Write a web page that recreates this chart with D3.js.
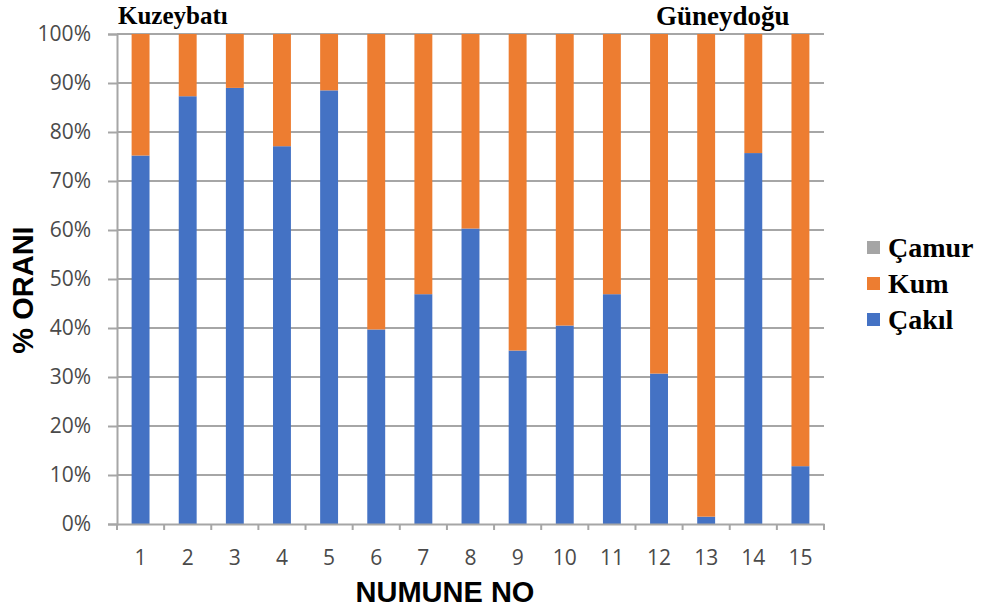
<!DOCTYPE html>
<html>
<head>
<meta charset="utf-8">
<script src="https://cdn.jsdelivr.net/npm/d3@7"></script>
<style>
  html, body { margin: 0; padding: 0; background: #fff; }
  svg { display: block; }
</style>
</head>
<body>
<svg id="chart" width="990" height="610"></svg>
<script>
// Sample numbers along the transect (north-west to south-east)
const samples = ["1","2","3","4","5","6","7","8","9","10","11","12","13","14","15"];
// Grain-size fractions, percent of each sample
const cakil = [75.2, 87.3, 89.0, 77.1, 88.5, 39.7, 46.9, 60.3, 35.4, 40.5, 46.9, 30.7, 1.5, 75.7, 11.8];
const kum   = [24.8, 12.7, 11.0, 22.9, 11.5, 60.3, 53.1, 39.7, 64.6, 59.5, 53.1, 69.3, 98.5, 24.3, 88.2];
const camur = [0, 0, 0, 0, 0, 0, 0, 0, 0, 0, 0, 0, 0, 0, 0];
// Stack order from bottom to top
const seriesNames = ["Çakıl", "Kum", "Çamur"];
const seriesColors = ["#4472C4", "#ED7D31", "#A5A5A5"];
const yTicks = [0, 10, 20, 30, 40, 50, 60, 70, 80, 90, 100];

const rows = samples.map((s, i) => ({ sample: s, "Çakıl": cakil[i], "Kum": kum[i], "Çamur": camur[i] }));

const svg = d3.select("#chart");
const m = { left: 117, right: 824, top: 34, bottom: 524 };

const x = d3.scaleBand().domain(samples).range([m.left, m.right]).paddingInner(0.62).paddingOuter(0.31);
const y = d3.scaleLinear().domain([0, 100]).range([m.bottom, m.top]);

const stacked = d3.stack().keys(seriesNames)(rows);

// Horizontal gridlines
svg.append("g")
  .selectAll("line")
  .data(yTicks.filter(t => t > 0))
  .join("line")
  .attr("x1", m.left).attr("x2", m.right)
  .attr("y1", d => y(d)).attr("y2", d => y(d))
  .attr("stroke", "#a6a6a6").attr("stroke-width", 2);

// Stacked bars
svg.append("g")
  .selectAll("g")
  .data(stacked)
  .join("g")
  .attr("fill", (d, i) => seriesColors[i])
  .selectAll("rect")
  .data(d => d)
  .join("rect")
  .attr("x", d => x(d.data.sample))
  .attr("width", x.bandwidth())
  .attr("y", d => y(d[1]))
  .attr("height", d => y(d[0]) - y(d[1]));

const tickFont = sel => sel
  .attr("fill", "#4a4a4a")
  .style("font-family", "'Open Sans', Lato, sans-serif")
  .style("font-size", "21px");

// Y axis
const yAxis = svg.append("g")
  .attr("transform", `translate(${m.left},0)`)
  .call(d3.axisLeft(y).tickValues(yTicks).tickFormat(d => d + "%").tickSize(9).tickPadding(17));
yAxis.select(".domain").attr("stroke", "#a6a6a6").attr("stroke-width", 2);
yAxis.selectAll(".tick line").attr("stroke", "#a6a6a6").attr("stroke-width", 2);
yAxis.selectAll(".tick text").call(tickFont);

// X axis: labels centred under the bars, ticks between categories
const xAxis = svg.append("g")
  .attr("transform", `translate(0,${m.bottom})`)
  .call(d3.axisBottom(x).tickSize(0).tickPadding(26));
xAxis.select(".domain").attr("stroke", "#a6a6a6").attr("stroke-width", 2);
xAxis.selectAll(".tick text").call(tickFont);
const bounds = d3.range(samples.length + 1).map(i => m.left + (m.right - m.left) * i / samples.length);
xAxis.append("g")
  .selectAll("line")
  .data(bounds)
  .join("line")
  .attr("x1", d => d).attr("x2", d => d)
  .attr("y1", 0).attr("y2", 6)
  .attr("stroke", "#a6a6a6").attr("stroke-width", 2);

// Axis titles
svg.append("text")
  .attr("x", 445).attr("y", 602)
  .attr("text-anchor", "middle")
  .style("font-family", "'Liberation Sans', Arial, sans-serif")
  .style("font-weight", "bold")
  .style("font-size", "29px")
  .attr("fill", "#000")
  .text("NUMUNE NO");

svg.append("text")
  .attr("transform", "translate(33,290) rotate(-90)")
  .attr("text-anchor", "middle")
  .style("font-family", "'Liberation Sans', Arial, sans-serif")
  .style("font-weight", "bold")
  .style("font-size", "29px")
  .attr("fill", "#000")
  .text("% ORANI");

// Transect end labels
const serifBold = size => sel => sel
  .style("font-family", "'Liberation Serif', 'Times New Roman', serif")
  .style("font-weight", "bold")
  .style("font-size", size + "px")
  .attr("fill", "#000");
svg.append("text").attr("x", 118).attr("y", 24).text("Kuzeybatı").call(serifBold(25));
svg.append("text").attr("x", 656).attr("y", 25).text("Güneydoğu").call(serifBold(27));

// Legend, top entry is the top of the stack
const legendItems = seriesNames.map((n, i) => ({ name: n, color: seriesColors[i] })).reverse();
const legend = svg.append("g")
  .selectAll("g")
  .data(legendItems)
  .join("g")
  .attr("transform", (d, i) => `translate(867,${247 + i * 36})`);
legend.append("rect")
  .attr("x", 0).attr("y", -6).attr("width", 13).attr("height", 13)
  .attr("fill", d => d.color);
legend.append("text")
  .attr("x", 21).attr("y", 10)
  .text(d => d.name)
  .call(serifBold(28));
</script>
</body>
</html>
